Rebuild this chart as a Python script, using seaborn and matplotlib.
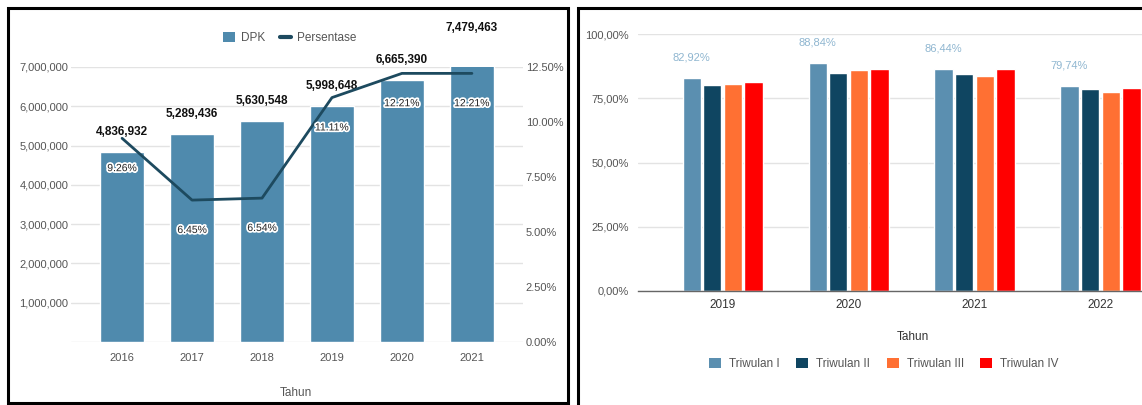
import numpy as np
import pandas as pd
import matplotlib
matplotlib.use("Agg")
import matplotlib.pyplot as plt
import matplotlib.patheffects as pe
from matplotlib.patches import Patch, Rectangle
from matplotlib.lines import Line2D
import seaborn as sns

# ---------------- data ----------------
years_left = ["2016", "2017", "2018", "2019", "2020", "2021"]
dpk = [4836932, 5289436, 5630548, 5998648, 6665390, 7479463]
persentase = [9.26, 6.45, 6.54, 11.11, 12.21, 12.21]

years_right = ["2019", "2020", "2021", "2022"]
quarters = ["Triwulan I", "Triwulan II", "Triwulan III", "Triwulan IV"]
tw1 = [82.92, 88.84, 86.44, 79.74]
tw2 = [80.2, 84.9, 84.6, 78.6]
tw3 = [80.4, 86.0, 83.8, 77.3]
tw4 = [81.2, 86.4, 86.4, 78.9]

left_yticks = [0, 1000000, 2000000, 3000000, 4000000, 5000000, 6000000, 7000000]
right_pct_ticks = [0, 2.5, 5, 7.5, 10, 12.5]
right_yticks = [0, 25, 50, 75, 100]

# ---------------- style ----------------
sns.set_theme(style="white")
plt.rcParams["font.family"] = ["Liberation Sans", "DejaVu Sans"]

W, H = 1142, 405
fig = plt.figure(figsize=(W / 100, H / 100), dpi=100)
fig.patch.set_facecolor("white")


def box(x0, y0, x1, y1):
    return [x0 / W, 1 - y1 / H, (x1 - x0) / W, (y1 - y0) / H]


BAR_C = "#4f8aad"
LINE_C = "#1d4a5f"
GRID_C = "#e3e3e3"
TXT_C = "#555555"
PAL = ["#5b8fb0", "#0f4561", "#ff7033", "#ff0000"]

# ---------------- left chart ----------------
ax = fig.add_axes(box(71, 67, 523, 342))
df_left = pd.DataFrame({"Tahun": years_left, "DPK": dpk})
sns.barplot(data=df_left, x="Tahun", y="DPK", color=BAR_C, width=0.64,
            saturation=1, ax=ax, zorder=2)
ax.set_ylim(0, 7000000)
ax.set_xlim(-0.73, 5.73)
ax.set_yticks(left_yticks)
ax.set_yticklabels(["" if v == 0 else f"{v:,}" for v in left_yticks])
ax.yaxis.grid(True, color=GRID_C, linewidth=1, zorder=0)
ax.set_axisbelow(True)
for s in ax.spines.values():
    s.set_visible(False)
ax.tick_params(axis="y", length=0, pad=2, labelsize=8, labelcolor=TXT_C)
ax.tick_params(axis="x", length=0, pad=8, labelsize=8, labelcolor=TXT_C)
ax.set_xlabel("")
ax.set_ylabel("")

for i, v in enumerate(dpk):
    ax.annotate(f"{v:,}", xy=(i, v), xytext=(0, 14.5), textcoords="offset points",
                ha="center", va="center", fontsize=8.5, fontweight="bold",
                color="#111111", annotation_clip=False)

ax2 = ax.twinx()
sns.lineplot(x=np.arange(len(years_left)), y=persentase, color=LINE_C,
             linewidth=2, ax=ax2, zorder=3)
ax2.set_ylim(0, 12.5)
ax2.set_yticks(right_pct_ticks)
ax2.set_yticklabels([f"{v:.2f}%" for v in right_pct_ticks])
ax2.tick_params(axis="y", length=0, pad=2, labelsize=8, labelcolor=TXT_C)
for s in ax2.spines.values():
    s.set_visible(False)
ax2.set_xlim(-0.73, 5.73)
ax2.set_ylabel("")
for i, v in enumerate(persentase):
    ax2.annotate(f"{v:.2f}%", xy=(i, v), xytext=(0, -21.5), textcoords="offset points",
                 ha="center", va="center", fontsize=7.5, color="#222222",
                 path_effects=[pe.withStroke(linewidth=2.5, foreground="white")],
                 zorder=5)

fig.legend(handles=[Patch(facecolor=BAR_C, edgecolor="none"),
                    Line2D([0], [0], color=LINE_C, linewidth=3)],
           labels=["DPK", "Persentase"], loc="center",
           bbox_to_anchor=(290 / W, 1 - 38 / H), ncol=2, frameon=False,
           fontsize=8.5, labelcolor=TXT_C, handlelength=1.0, handleheight=1.0,
           handletextpad=0.5, columnspacing=1.2)
fig.text(296 / W, 1 - 393 / H, "Tahun", ha="center", va="center",
         fontsize=8.5, color=TXT_C)

# ---------------- right chart ----------------
axr = fig.add_axes(box(637.5, 34, 1142, 291))
rows = []
for q, vals in zip(quarters, [tw1, tw2, tw3, tw4]):
    for y, v in zip(years_right, vals):
        rows.append({"Tahun": y, "Triwulan": q, "Nilai": v})
df_right = pd.DataFrame(rows)
sns.barplot(data=df_right, x="Tahun", y="Nilai", hue="Triwulan",
            hue_order=quarters, order=years_right, palette=PAL, saturation=1,
            width=0.655, gap=0.12, legend=False, ax=axr, zorder=2)
axr.set_ylim(0, 100)
axr.set_xlim(-0.675, (1142 - 722.5) / 126)
axr.set_yticks(right_yticks)
axr.set_yticklabels([f"{v:.2f}%".replace(".", ",") for v in right_yticks])
axr.yaxis.grid(True, color=GRID_C, linewidth=1, zorder=0)
axr.set_axisbelow(True)
for s in axr.spines.values():
    s.set_visible(False)
axr.spines["bottom"].set_visible(True)
axr.spines["bottom"].set_color("#666666")
axr.spines["bottom"].set_linewidth(1)
axr.tick_params(axis="y", length=0, pad=6, labelsize=8, labelcolor=TXT_C)
axr.tick_params(axis="x", length=0, pad=6, labelsize=8.5, labelcolor="#333333")
axr.set_xlabel("")
axr.set_ylabel("")

for i, v in enumerate(tw1):
    bar = axr.containers[0][i]
    cx = bar.get_x() + bar.get_width() / 2
    axr.annotate(f"{v:.2f}%".replace(".", ","), xy=(cx, v), xytext=(0, 14.5),
                 textcoords="offset points", ha="center", va="center",
                 fontsize=8, color="#8fb6d0", annotation_clip=False)

fig.legend(handles=[Patch(facecolor=c, edgecolor="none") for c in PAL],
           labels=quarters, loc="center", bbox_to_anchor=(884 / W, 1 - 364 / H),
           ncol=4, frameon=False, fontsize=8.5, labelcolor=TXT_C,
           handlelength=1.0, handleheight=1.0, handletextpad=0.7,
           columnspacing=1.4)
fig.text(913 / W, 1 - 337 / H, "Tahun", ha="center", va="center",
         fontsize=8.5, color="#333333")

# ---------------- panel frames ----------------
def frame(x0, y0, x1, y1):
    fig.add_artist(Rectangle((x0 / W, 1 - y1 / H), (x1 - x0) / W, (y1 - y0) / H,
                             transform=fig.transFigure, fill=False,
                             edgecolor="black", linewidth=2.2, zorder=10))

frame(7.5, 8, 568, 403)
frame(577.5, 8, 1150, 412)

fig.savefig("out.png", dpi=100, facecolor="white")
